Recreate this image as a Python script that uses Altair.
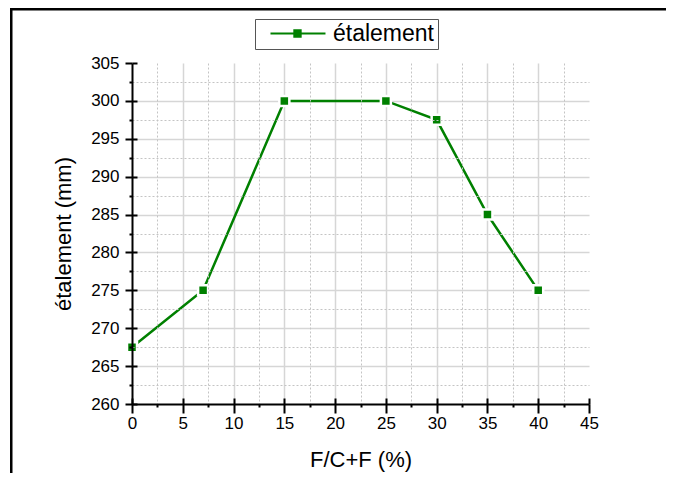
import altair as alt
import pandas as pd

# data
x_vals = [0, 7, 15, 25, 30, 35, 40]
y_vals = [267.5, 275, 300, 300, 297.5, 285, 275]
series_name = "étalement"

x_major = [0, 5, 10, 15, 20, 25, 30, 35, 40, 45]
x_grid = [5, 10, 15, 20, 25, 30, 35, 40]
x_minor = [2.5, 7.5, 12.5, 17.5, 22.5, 27.5, 32.5, 37.5, 42.5]
y_major = [260, 265, 270, 275, 280, 285, 290, 295, 300, 305]
y_grid = [265, 270, 275, 280, 285, 290, 295, 300]
y_minor = [262.5, 267.5, 272.5, 277.5, 282.5, 287.5, 292.5, 297.5, 302.5]

x_title = "F/C+F (%)"
y_title = "étalement (mm)"

df = pd.DataFrame({"x": x_vals, "y": y_vals, "s": [series_name] * len(x_vals)})
frame_df = pd.DataFrame({"k": [0]})

GREEN = "#008000"
FONT = "Liberation Sans"
xs = alt.Scale(domain=[0, 45], nice=False, zero=False)
ys = alt.Scale(domain=[260, 305], nice=False, zero=False)

def bare_axis(**kw):
    base = dict(labels=False, domain=False, title=None, ticks=False, grid=False)
    base.update(kw)
    return alt.Axis(**base)

# minor grid (dotted) + minor outward ticks
minor = alt.Chart(df).mark_point(opacity=0).encode(
    x=alt.X("x:Q", scale=xs, axis=bare_axis(orient="bottom", values=x_minor, grid=True,
            gridDash=[2, 2], gridColor="#c4c4c4", gridWidth=1, ticks=True, tickSize=3,
            tickWidth=2, tickColor="black", zindex=1)),
    y=alt.Y("y:Q", scale=ys, axis=bare_axis(orient="left", values=y_minor, grid=True,
            gridDash=[2, 2], gridColor="#c4c4c4", gridWidth=1, ticks=True, tickSize=3,
            tickWidth=2, tickColor="black", zindex=1)),
)

# major grid (solid)
major = alt.Chart(df).mark_point(opacity=0).encode(
    x=alt.X("x:Q", scale=xs, axis=bare_axis(orient="bottom", values=x_grid, grid=True,
            gridColor="#d6d6d6", gridWidth=1.5, zindex=0)),
    y=alt.Y("y:Q", scale=ys, axis=bare_axis(orient="left", values=y_grid, grid=True,
            gridColor="#d6d6d6", gridWidth=1.5, zindex=0)),
)

# inward part of major ticks
inward = alt.Chart(df).mark_point(opacity=0).encode(
    x=alt.X("x:Q", scale=xs, axis=bare_axis(orient="bottom", values=x_major, ticks=True,
            tickSize=6, tickWidth=2, tickColor="black", offset=-6, zindex=1)),
    y=alt.Y("y:Q", scale=ys, axis=bare_axis(orient="left", values=y_major, ticks=True,
            tickSize=5, tickWidth=2, tickColor="black", offset=-5, zindex=1)),
)

line = alt.Chart(df).mark_line(color=GREEN, strokeWidth=2.5).encode(
    x=alt.X("x:Q", scale=xs, axis=alt.Axis(
        orient="bottom", values=x_major, grid=False, domainColor="black", domainWidth=2,
        tickColor="black", tickWidth=2, tickSize=9, labelFont=FONT, labelFontSize=17,
        labelColor="black", labelPadding=2, labelFlush=False, title=x_title, titleFont=FONT,
        titleFontSize=22, titleFontWeight="normal", titleColor="black", titlePadding=18,
        zindex=2)),
    y=alt.Y("y:Q", scale=ys, axis=alt.Axis(
        orient="left", values=y_major, grid=False, domainColor="black", domainWidth=2,
        tickColor="black", tickWidth=2, tickSize=7, labelFont=FONT, labelFontSize=17,
        labelColor="black", labelPadding=6, labelFlush=False, title=y_title, titleFont=FONT,
        titleFontSize=22, titleFontWeight="normal", titleColor="black", titlePadding=15,
        zindex=2)),
)

# legend symbol: line with a square marker (units of sqrt(size)/2)
legend_symbol = ("M0.09,-0.09L5.09,-0.09L5.09,0.09L0.09,0.09Z "
                 "M2.165,-0.38L2.925,-0.38L2.925,0.38L2.165,0.38Z")

points = alt.Chart(df).mark_square(size=100, filled=True, stroke="white",
                                   strokeWidth=2.5, opacity=1).encode(
    x=alt.X("x:Q", scale=xs, axis=None),
    y=alt.Y("y:Q", scale=ys, axis=None),
    color=alt.Color("s:N", scale=alt.Scale(domain=[series_name], range=[GREEN]),
                    legend=alt.Legend(title=None, orient="none", legendX=123, legendY=-44,
                                      strokeColor="#555555", padding=3,
                                      symbolType=legend_symbol, symbolSize=484,
                                      symbolFillColor=GREEN, symbolStrokeWidth=0,
                                      labelFont=FONT, labelFontSize=23, labelColor="black",
                                      labelOffset=52)),
)

# outer figure frame (only its left and top sides fall inside the picture)
frame_left = alt.Chart(frame_df).mark_rect(color="black").encode(
    x=alt.value(-122), x2=alt.value(-119.5), y=alt.value(-55), y2=alt.value(520))
frame_top = alt.Chart(frame_df).mark_rect(color="black").encode(
    x=alt.value(-122), x2=alt.value(534), y=alt.value(-55), y2=alt.value(-52.5))

chart = alt.layer(major, minor, inward, line, points, frame_left, frame_top).resolve_axis(
    x="independent", y="independent"
).properties(
    width=457, height=341,
    padding={"left": 124, "top": 55, "right": 77, "bottom": 69},
    autosize=alt.AutoSizeParams(type="none"),
).configure_view(stroke=None)

chart.save("out.html", embed_options={"renderer": "svg", "actions": False})
